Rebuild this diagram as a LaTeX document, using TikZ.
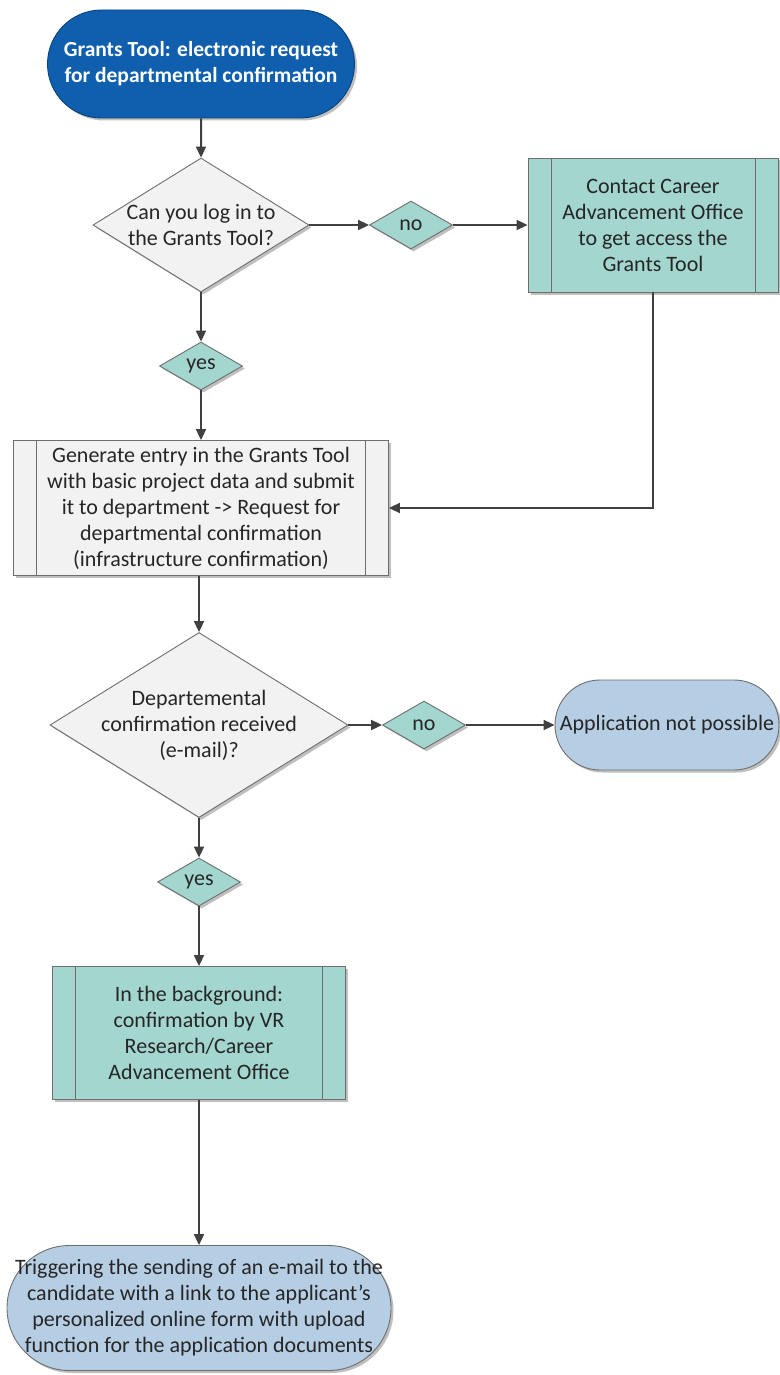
\documentclass[tikz,border=0pt]{standalone}
\usepackage{fontspec}
\setmainfont{Carlito}
\usetikzlibrary{shapes.geometric,shapes.misc,arrows.meta,shadows}
\definecolor{startblue}{HTML}{0F5FAE}
\definecolor{teal}{HTML}{A2D6CF}
\definecolor{lblue}{HTML}{B6CEE4}
\definecolor{lgray}{HTML}{F2F2F2}
\definecolor{edge}{HTML}{6E6E6E}
\definecolor{linec}{HTML}{404040}
\definecolor{txt}{HTML}{262626}
\tikzset{
  shd/.style={drop shadow={shadow xshift=2.5pt,shadow yshift=-2.5pt,opacity=0.25,fill=black}},
  base/.style={draw=edge,line width=0.9pt,text=txt,font=\fontsize{22}{26}\selectfont,align=center,inner sep=0pt,shd},
  term/.style={base,rounded rectangle},
  dec/.style={base,diamond,fill=lgray},
  small/.style={base,diamond,fill=teal,minimum width=83pt,minimum height=48pt},
  subproc/.style={base,rectangle,path picture={
      \draw[edge,line width=0.9pt] ([xshift=#1]path picture bounding box.north west) -- ([xshift=#1]path picture bounding box.south west);
      \draw[edge,line width=0.9pt] ([xshift=-#1]path picture bounding box.north east) -- ([xshift=-#1]path picture bounding box.south east);}},
  lbl/.style={text=txt,font=\fontsize{22}{26}\selectfont,align=center,inner sep=0pt},
  arr/.style={draw=linec,line width=2pt,-{Triangle[length=11pt,width=10pt]}}
}
\begin{document}
\begin{tikzpicture}[x=1pt,y=-1pt]
\useasboundingbox[fill=white] (0,0) rectangle (779,1375);

\node[term,fill=startblue,draw=startblue!70!black,text=white,font=\fontsize{21.5}{26}\selectfont\bfseries,minimum width=307pt,minimum height=108pt] (start) at (201,64) {Grants Tool: electronic request\\for departmental confirmation};

\node[dec,minimum width=216pt,minimum height=134pt] (d1) at (201,225) {};
\node[lbl] (d1t) at (d1) {Can you log in to\\the Grants Tool?};

\node[small] (no1) at (411,225) {no};

\node[subproc=23pt,fill=teal,minimum width=250pt,minimum height=134pt] (contact) at (653,225) {Contact Career\\Advancement Office\\to get access the\\Grants Tool};

\node[small] (yes1) at (201,366) {yes};

\node[subproc=23pt,fill=lgray,minimum width=375pt,minimum height=135pt] (gen) at (201,508) {Generate entry in the Grants Tool\\with basic project data and submit\\it to department -> Request for\\departmental confirmation\\(infrastructure confirmation)};

\node[dec,minimum width=298pt,minimum height=185pt] (d2) at (199,725) {};
\node[lbl] (d2t) at (d2) {Departemental\\confirmation received\\(e-mail)?};

\node[small] (no2) at (424,725) {no};

\node[term,fill=lblue,minimum width=224pt,minimum height=90pt] (app) at (667,725) {Application not possible};

\node[small] (yes2) at (199,882) {yes};

\node[subproc=23pt,fill=teal,minimum width=293pt,minimum height=133pt] (bg) at (199,1033) {In the background:\\confirmation by VR\\Research/Career\\Advancement Office};

\node[term,fill=lblue,minimum width=384pt,minimum height=125pt] (end) at (199,1308) {};
\node[lbl] (endt) at (end) {Triggering the sending of an e-mail to the\\candidate with a link to the applicant's\\personalized online form with upload\\function for the application documents};

\draw[arr] (start) -- (d1);
\draw[arr] (d1) -- (no1);
\draw[arr] (no1) -- (contact);
\draw[arr] (contact.south) |- (gen.east);
\draw[arr] (d1) -- (yes1);
\draw[arr] (yes1) -- (gen);
\draw[arr] (gen.south -| d2.north) -- (d2);
\draw[arr] (d2) -- (no2);
\draw[arr] (no2) -- (app);
\draw[arr] (d2) -- (yes2);
\draw[arr] (yes2) -- (bg);
\draw[arr] (bg) -- (end);
\end{tikzpicture}
\end{document}
